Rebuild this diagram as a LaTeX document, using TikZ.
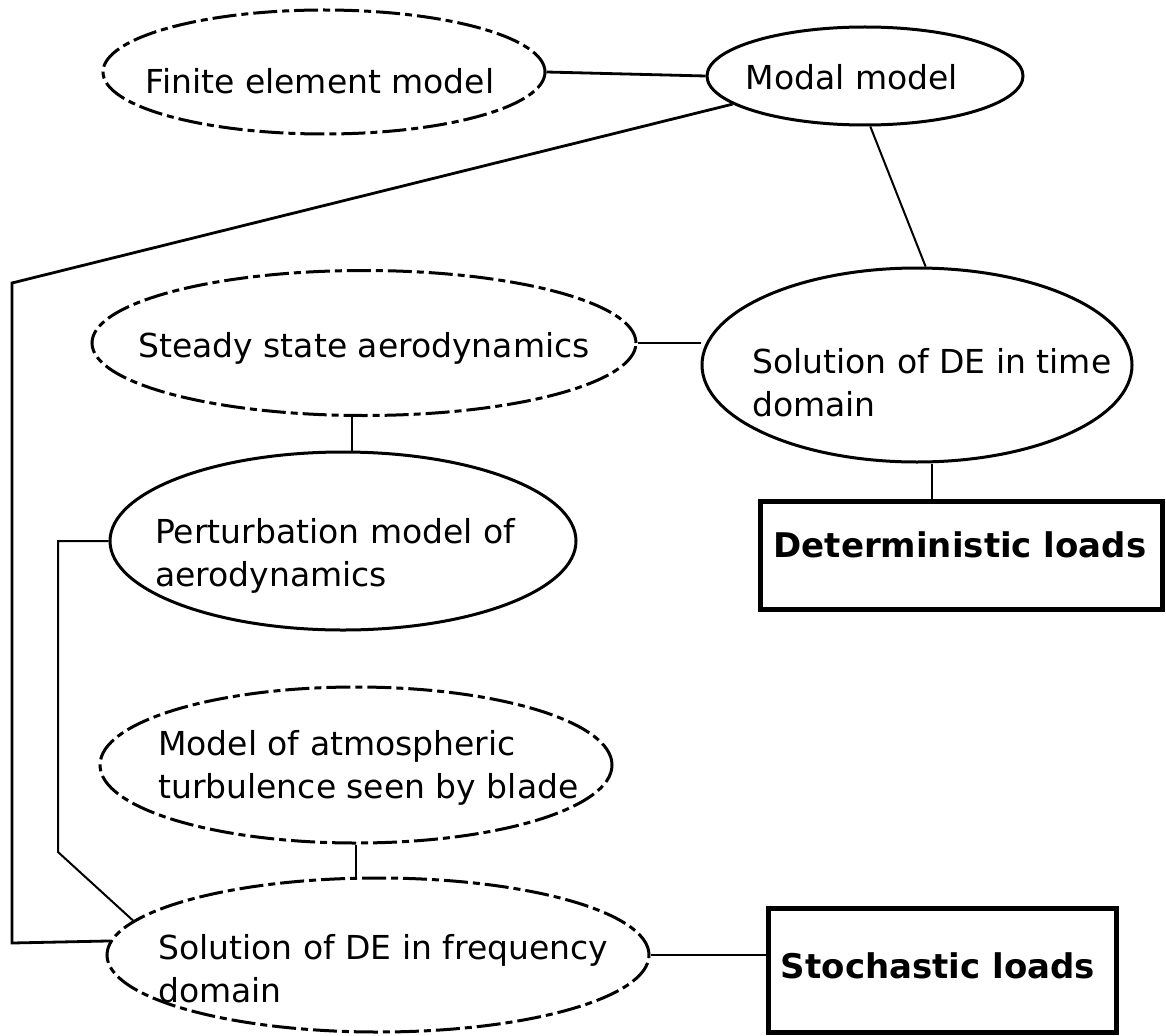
\documentclass[tikz,border=0pt]{standalone}
\usepackage{fontspec}
\setmainfont{DejaVu Sans}
\usetikzlibrary{shapes.geometric}
\begin{document}
\begin{tikzpicture}[x=1pt,y=-1pt,
  ell/.style={ellipse, draw, line width=3pt, inner sep=0pt},
  dell/.style={ell, dash pattern=on 24pt off 5pt on 7pt off 5pt},
  lbl/.style={font=\fontsize{33}{43}\selectfont, inner sep=0pt, align=left},
  box/.style={draw, line width=5pt, inner sep=0pt},
  blbl/.style={font=\bfseries\fontsize{34}{42}\selectfont, inner sep=0pt},
  conn/.style={line width=2.8pt},
  thinconn/.style={line width=2pt}]
\useasboundingbox (0,0) rectangle (1166,1035);

% ellipses
\node[dell, minimum width=442pt, minimum height=124pt] (fem) at (324,72) {};
\node[ell,  minimum width=316pt, minimum height=98pt]  (modal) at (865,76) {};
\node[dell, minimum width=544pt, minimum height=145pt] (steady) at (364,343) {};
\node[ell,  minimum width=430pt, minimum height=194pt] (time) at (917,365) {};
\node[ell,  minimum width=466pt, minimum height=178pt] (pert) at (343,541) {};
\node[dell, minimum width=512pt, minimum height=156pt] (turb) at (356,765) {};
\node[dell, minimum width=542pt, minimum height=154pt] (freq) at (378,955) {};
% boxes
\node[box, minimum width=402pt, minimum height=108pt] (det) at (961,555) {};
\node[box, minimum width=348pt, minimum height=124pt] (stoch) at (942,970) {};

% texts
\node[lbl] (femt) at (320,81) {Finite element model};
\node[lbl] (modalt) at (852,77) {Modal model};
\node[lbl] (steadyt) at (364,348) {Steady state aerodynamics};
\node[lbl, anchor=west] (timet) at (752,383) {Solution of DE in time\\domain};
\node[lbl, anchor=west] (pertt) at (155,556) {Perturbation model of\\aerodynamics};
\node[lbl, anchor=west] (turbt) at (158,768) {Model of atmospheric\\turbulence seen by blade};
\node[lbl, anchor=west] (freqt) at (158,969) {Solution of DE in frequency\\domain};
\node[blbl] (dett) at (960,545) {Deterministic loads};
\node[blbl] (stocht) at (938,966) {Stochastic loads};

% corner points
\coordinate (c1) at (12,283);
\coordinate (c2) at (12,943);
\coordinate (p1) at (58,541);
\coordinate (p2) at (58,852);

% connectors
\draw[conn] (fem.east) -- (modal.west);
\draw[conn] (modal.192) -- (c1) -- (c2) -- (freq.177);
\draw[thinconn] (modal.-84) -- (time.85);
\draw[conn] (steady.east) -- (steady.east -| time.west);
\draw[conn] ([xshift=-12pt]steady.south) -- ([xshift=-12pt]steady.south |- pert.north);
\draw[conn] ([xshift=15pt]time.south) -- ([xshift=15pt]time.south |- det.north);
\draw[thinconn] (pert.west) -- (p1) -- (p2) -- (freq.172.6);
\draw[conn] (turb.south) -- (turb.south |- freq.north);
\draw[conn] (freq.east) -- (freq.east -| stoch.west);
\end{tikzpicture}
\end{document}
